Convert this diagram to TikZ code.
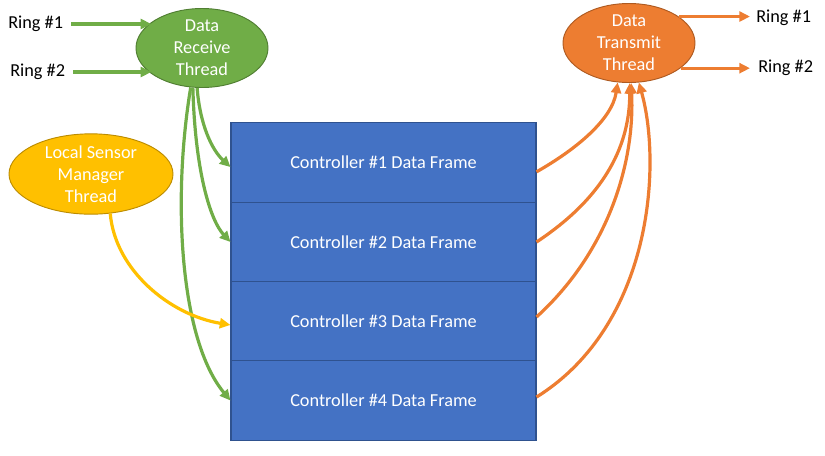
\documentclass[tikz,border=0pt]{standalone}
\usepackage{fontspec}
\setmainfont{Carlito}
\usetikzlibrary{shapes.geometric,arrows.meta}
\definecolor{gfill}{HTML}{70AD47}
\definecolor{gline}{HTML}{507E32}
\definecolor{ofill}{HTML}{ED7D31}
\definecolor{oline}{HTML}{AE5A21}
\definecolor{yfill}{HTML}{FFC000}
\definecolor{yline}{HTML}{BC8C00}
\definecolor{bfill}{HTML}{4472C4}
\definecolor{bline}{HTML}{2F528F}
\tikzset{
  txt/.style={font=\fontsize{13.7}{16.5}\selectfont},
  thread/.style={ellipse, txt, text=white, align=center, inner sep=0pt, line width=0.7pt},
  frame/.style={rectangle, txt, text=white, fill=bfill, draw=bline, line width=0.8pt,
    minimum width=228.75pt, minimum height=59.4pt, inner sep=0pt},
  ring/.style={txt, text=black, inner sep=0pt, anchor=west},
  conn/.style={line width=2.4pt, -{Triangle[length=8pt,width=7.5pt]}},
  garr/.style={conn, draw=gfill},
  oarr/.style={conn, draw=ofill},
  yarr/.style={conn, draw=yfill},
}
\begin{document}
\begin{tikzpicture}[x=0.75pt,y=-0.75pt]
\useasboundingbox (0,0) rectangle (825,455);
% frames
\node[frame] (r1) at (383.5,162.5) {Controller \#1 Data Frame};
\node[frame] (r2) at (383.5,242) {Controller \#2 Data Frame};
\node[frame] (r3) at (383.5,321.5) {Controller \#3 Data Frame};
\node[frame] (r4) at (383.5,400.5) {Controller \#4 Data Frame};
% threads
\node[thread, fill=gfill, draw=gline, minimum width=99pt, minimum height=52.5pt] (recv) at (202,48) {Data\\Receive\\Thread};
\node[thread, fill=yfill, draw=yline, minimum width=123pt, minimum height=52.5pt] (lsm) at (91,174) {Local Sensor\\Manager\\Thread};
\node[thread, fill=ofill, draw=oline, minimum width=99pt, minimum height=54pt] (trans) at (629,43) {Data\\Transmit\\Thread};
% ring labels
\node[ring] (rl1) at (8,24) {Ring \#1};
\node[ring] (rl2) at (10,72) {Ring \#2};
\node[ring] (rr1) at (756,18) {Ring \#1};
\node[ring] (rr2) at (758,68) {Ring \#2};
% ring arrows
\draw[garr, shorten <=6pt] (rl1.east) -- (recv.153 |- rl1.east);
\draw[garr, shorten <=6pt] (rl2.east) -- (recv.207 |- rl2.east);
\draw[oarr, shorten >=4.5pt] (trans.28) -- (trans.28 -| rr1.west);
\draw[oarr, shorten >=6pt] (trans.334) -- (trans.334 -| rr2.west);
% receive to frames
\draw[garr] (recv.263) .. controls (200,125) and (212,150) .. ([yshift=-3.4pt]r1.west);
\draw[garr] (recv.257) .. controls (195,170) and (210,220) .. (r2.west);
\draw[garr] (recv.254) .. controls (172,200) and (180,340) .. (r4.west);
% local sensor to frame 3
\draw[yarr] (lsm.296) .. controls (115,270) and (170,315) .. ([yshift=-2.6pt]r3.west);
% frames to transmit
\draw[oarr] ([yshift=-7pt]r1.east) .. controls (575,150) and (612,120) .. (trans.254);
\draw[oarr] (r2.east) .. controls (600,200) and (630,150) .. (trans.271);
\draw[oarr] ([yshift=3.4pt]r3.east) .. controls (610,250) and (635,160) .. (trans.273);
\draw[oarr] ([yshift=2.6pt]r4.east) .. controls (652,325) and (662,165) .. (trans.284);
\end{tikzpicture}
\end{document}
